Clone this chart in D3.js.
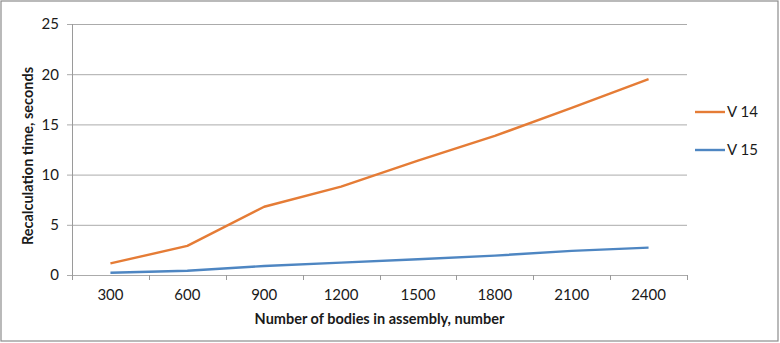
<!DOCTYPE html>
<html><head><meta charset="utf-8">
<script src="https://cdn.jsdelivr.net/npm/d3@7"></script>
<style>
html,body{margin:0;padding:0;background:#fff;}
svg text{font-family:Lato,"Open Sans",sans-serif;fill:#1a1a1a;}
</style></head>
<body><svg id="c" width="780" height="343"></svg>
<script>
const categories = [300, 600, 900, 1200, 1500, 1800, 2100, 2400];
const v14 = [1.15, 2.9, 6.8, 8.8, 11.4, 13.85, 16.65, 19.5];
const v15 = [0.22, 0.43, 0.9, 1.23, 1.57, 1.93, 2.4, 2.73];
const yTicks = [0, 5, 10, 15, 20, 25];
const seriesNames = ["V 14", "V 15"];
const seriesColors = ["#E57C36", "#4E86C2"];

const svg = d3.select("#c");
svg.append("rect").attr("x",1).attr("y",1).attr("width",777).attr("height",340)
  .attr("fill","#fff").attr("stroke","#8c8c8c").attr("stroke-width",1.2);

const L = 72, R = 687, T = 24, B = 275;
const x = d3.scaleBand().domain(categories).range([L, R]);
const y = d3.scaleLinear().domain([0, 25]).range([B, T]);

// gridlines
svg.append("g").selectAll("line").data(yTicks).join("line")
  .attr("x1", L-5).attr("x2", R).attr("y1", d=>y(d)+0.5).attr("y2", d=>y(d)+0.5)
  .attr("stroke", "#ababab").attr("stroke-width", 1);

// y axis line
svg.append("line").attr("x1",L+0.5).attr("x2",L+0.5).attr("y1",T).attr("y2",B+5)
  .attr("stroke","#9a9a9a");
// y labels
svg.append("g").selectAll("text").data(yTicks).join("text")
  .attr("x", 59).attr("y", d=>y(d)).attr("dy","0.36em").attr("text-anchor","end")
  .style("font-size","15px").text(d=>d);

// x axis ticks between categories
const tickPos = categories.map(c=>x(c)).concat([R]);
svg.append("g").selectAll("line").data(tickPos).join("line")
  .attr("x1", d=>Math.round(d)+0.5).attr("x2", d=>Math.round(d)+0.5).attr("y1", B).attr("y2", B+5)
  .attr("stroke","#9a9a9a");
svg.append("g").selectAll("text").data(categories).join("text")
  .attr("x", d=>x(d)+x.bandwidth()/2).attr("y", 300).attr("text-anchor","middle")
  .style("font-size","15px").text(d=>d);

// axis titles
svg.append("text").attr("x", (L+R)/2).attr("y", 324).attr("text-anchor","middle")
  .style("font-size","14.5px").style("font-weight","bold").text("Number of bodies in assembly, number");
svg.append("text").attr("transform", `translate(33,156) rotate(-90)`).attr("text-anchor","middle")
  .style("font-size","14.5px").style("font-weight","bold").text("Recalculation time, seconds");

// lines
const line = d3.line().x((d,i)=>x(categories[i])+x.bandwidth()/2).y(d=>y(d));
[v14, v15].forEach((s,i)=>{
  svg.append("path").attr("d", line(s)).attr("fill","none")
    .attr("stroke", seriesColors[i]).attr("stroke-width", 2.4).attr("stroke-linejoin","round");
});

// legend
const legY = [112, 150];
seriesNames.forEach((n,i)=>{
  svg.append("line").attr("x1",695).attr("x2",725).attr("y1",legY[i]).attr("y2",legY[i])
    .attr("stroke",seriesColors[i]).attr("stroke-width",2.4);
  svg.append("text").attr("x",727).attr("y",legY[i]).attr("dy","0.36em")
    .style("font-size","15px").text(n);
});
</script></body></html>
